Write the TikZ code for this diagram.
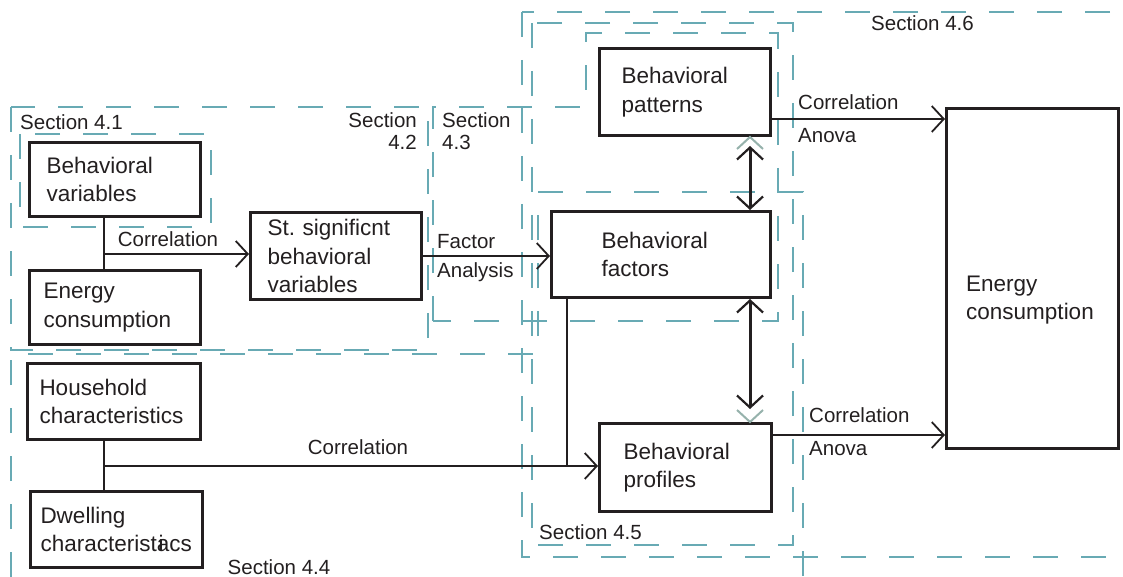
\documentclass[tikz,border=0pt]{standalone}
\usepackage{fontspec}
\setmainfont{Liberation Sans}
\usetikzlibrary{arrows.meta,calc}
\definecolor{dashc}{RGB}{104,170,180}
\definecolor{tipgray}{RGB}{150,178,172}
\definecolor{ink}{RGB}{35,31,32}
\newcommand\mynodefont{\fontsize{22.5}{28.5}\selectfont}
\newcommand\mylabelfont{\fontsize{20.5}{21.5}\selectfont}
\hyphenpenalty=10000
\exhyphenpenalty=10000
\begin{document}
\begin{tikzpicture}[x=1pt,y=-1pt,
  box/.style={draw=ink, line width=3pt, align=left, inner ysep=0pt, font=\mynodefont, text=ink, anchor=north west},
  lbl/.style={inner sep=0pt, font=\mylabelfont, text=ink},
  sect/.style={draw=dashc, line width=2pt, dash pattern=on 25pt off 23pt},
  conn/.style={draw=ink, line width=1.8pt},
  arr/.style={conn, -{Straight Barb[length=12pt,width=26pt,line width=1.8pt]}},
  dbl/.style={draw=ink, line width=3pt, {Straight Barb[length=12pt,width=26pt,line width=2.2pt]}-{Straight Barb[length=12pt,width=26pt,line width=2.2pt]}},
  chev/.style={draw=tipgray, line width=2pt},
]
\useasboundingbox (0,0) rectangle (1123,577);

% dashed section outlines
\draw[sect] (20,134) rectangle (211,227);
\draw[sect] (11,107) rectangle (428,350);
\draw[sect] (433,321) -- (433,107) -- (586,107) -- (586,33) -- (778,33) -- (778,321) -- cycle;
\draw[sect] (11,577) -- (11,354) -- (538,354) -- (538,192) -- (803,192) -- (803,577);
\draw[sect] (532,23) rectangle (793,545);
\draw[sect] (522,12) rectangle (1135,557);

% boxes
\node[box, minimum width=171pt, minimum height=74pt, text width=137pt, inner xsep=17pt] (bv) at (28,141) {Behavioral\\variables};
\node[box, minimum width=171pt, minimum height=74pt, text width=143pt, inner xsep=14pt] (ec1) at (28,269) {Energy\\consumption};
\node[box, minimum width=171pt, minimum height=87pt, text width=137pt, inner xsep=17pt] (st) at (249,211) {St.\ significnt\\behavioral\\variables};
\node[box, minimum width=173pt, minimum height=76pt, text width=149pt, inner xsep=12pt] (hh) at (26,362) {Household\\characteristics};
\node[box, minimum width=172pt, minimum height=76pt, text width=152pt, inner xsep=10pt] (dw) at (29,490) {Dwelling\\characterist\rlap{\kern0.08em i}acs};
\node[box, minimum width=171pt, minimum height=87pt, text width=127pt, inner xsep=22pt] (pat) at (598,47) {Behavioral\\patterns};
\node[box, minimum width=219pt, minimum height=86pt, text width=119pt, inner xsep=50pt] (fac) at (550,210) {Behavioral\\factors};
\node[box, minimum width=172pt, minimum height=88pt, text width=124pt, inner xsep=24pt] (pro) at (598,422) {Behavioral\\profiles};
\node[box, minimum width=172pt, minimum height=340pt] (ec2) at (945,107) {};
\node[inner sep=0pt, font=\mynodefont, text=ink, align=left, anchor=west] (ec2t) at (966,300) {Energy\\consumption};

% junction coordinates
\coordinate (j1) at (104,254);
\coordinate (j2) at (104,466);
\coordinate (j3) at (567,466);
\coordinate (dx) at (750,0);
\coordinate (r1) at (945,119);
\coordinate (r2) at (945,435);

% connectors
\draw[conn] (bv.south -| j1) -- (ec1.north -| j1);
\draw[arr] (j1) -- (j1 -| st.west);
\draw[arr] (st.east) -- (st.east -| fac.west);
\draw[conn] (hh.south -| j2) -- (dw.north -| j2);
\draw[arr] (j2) -- (j2 -| pro.west);
\draw[conn] (fac.south -| j3) -- (j3);
\draw[arr] (pat.east |- r1) -- (ec2.west |- r1);
\draw[arr] (pro.east |- r2) -- (ec2.west |- r2);
\draw[dbl] ($(pat.south -| dx)+(0,9)$) -- (fac.north -| dx);
\draw[chev] ($(pat.south -| dx)+(-13,12)$) -- (pat.south -| dx) -- ++(13,12);
\draw[dbl] (fac.south -| dx) -- ($(pro.north -| dx)+(0,-13)$);
\draw[chev] ($(pro.north -| dx)+(-13,-12)$) -- (pro.north -| dx) -- ++(13,-12);

% labels
\node[lbl] (l1) at (168,239) {Correlation};
\node[lbl, anchor=west] (l2) at (437,242) {Factor};
\node[lbl, anchor=west] (l3) at (437,272) {Analysis};
\node[lbl] (l4) at (358,447) {Correlation};
\node[lbl, anchor=west] (l5) at (798,102) {Correlation};
\node[lbl, anchor=west] (l6) at (798,136) {Anova};
\node[lbl, anchor=west] (l7) at (809,415) {Correlation};
\node[lbl, anchor=west] (l8) at (809,449) {Anova};
\node[lbl, anchor=west] (s1) at (20,122) {Section 4.1};
\node[lbl, anchor=east, align=right] (s2) at (417,131) {Section\\4.2};
\node[lbl, anchor=west, align=left] (s3) at (442,131) {Section\\4.3};
\node[lbl] (s4) at (279,567) {Section 4.4};
\node[lbl, anchor=west] (s5) at (539,532) {Section 4.5};
\node[lbl, anchor=west] (s6) at (871,23) {Section 4.6};
\end{tikzpicture}
\end{document}
